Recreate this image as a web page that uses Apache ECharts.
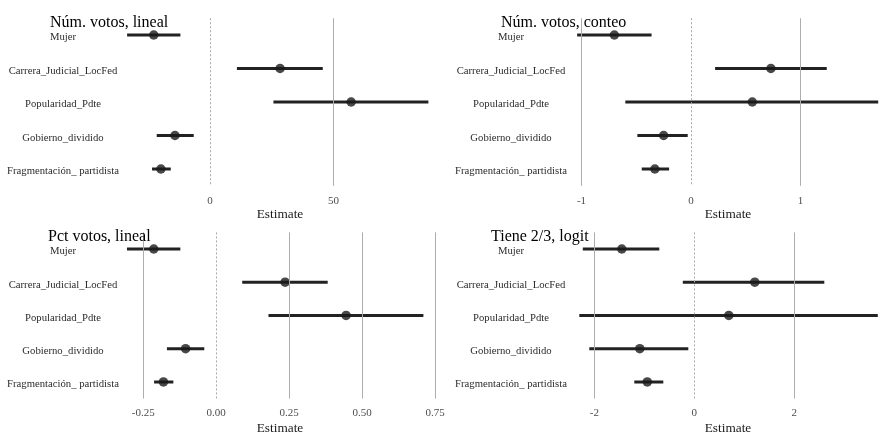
<!DOCTYPE html>
<html>
<head>
<meta charset="utf-8">
<script src="https://cdn.jsdelivr.net/npm/echarts@6/dist/echarts.min.js"></script>
<style>html,body{margin:0;padding:0;background:#fff}#c{width:892px;height:436px}</style>
</head>
<body>
<div id="c"></div>
<script>
const categories = ['Mujer', 'Carrera_Judicial_LocFed', 'Popularidad_Pdte', 'Gobierno_dividido', 'Fragmentación_ partidista'];
const panelTitles = ['Núm. votos, lineal', 'Núm. votos, conteo', 'Pct votos, lineal', 'Tiene 2/3, logit'];

// Panel 1: Núm. votos, lineal
const est1 = [-22.8, 28.4, 57.2, -14.2, -19.9];
const lo1  = [-33.6, 10.9, 25.7, -21.6, -23.5];
const hi1  = [-12.0, 45.7, 88.5, -6.6, -15.9];
const ticks1 = [0, 50];

// Panel 2: Núm. votos, conteo
const est2 = [-0.70, 0.73, 0.56, -0.25, -0.33];
const lo2  = [-1.04, 0.22, -0.60, -0.49, -0.45];
const hi2  = [-0.36, 1.24, 1.71, -0.03, -0.20];
const ticks2 = [-1, 0, 1];

// Panel 3: Pct votos, lineal
const est3 = [-0.214, 0.236, 0.445, -0.105, -0.181];
const lo3  = [-0.306, 0.089, 0.179, -0.169, -0.213];
const hi3  = [-0.123, 0.382, 0.710, -0.041, -0.147];
const ticks3 = [-0.25, 0, 0.25, 0.5, 0.75];

// Panel 4: Tiene 2/3, logit
const est4 = [-1.45, 1.21, 0.69, -1.09, -0.94];
const lo4  = [-2.23, -0.23, -2.30, -2.10, -1.20];
const hi4  = [-0.70, 2.60, 3.67, -0.12, -0.62];
const ticks4 = [-2, 0, 2];

const FONT = "'Liberation Serif', 'Times New Roman', serif";

const panels = [
  {est: est1, lo: lo1, hi: hi1, ticks: ticks1, dec: 0, grid: {left: 122, width: 316, top: 18.25, height: 167.5}, min: -35.67, max: 92.40, labelMargin: 59, tickMargin: 9.5, nameGap: 22.5, title: {left: 50, top: 14.5}},
  {est: est2, lo: lo2, hi: hi2, ticks: ticks2, dec: 0, grid: {left: 572, width: 312, top: 18.25, height: 167.5}, min: -1.087, max: 1.763, labelMargin: 61, tickMargin: 9.5, nameGap: 22.5, title: {left: 501, top: 14.5}},
  {est: est3, lo: lo3, hi: hi3, ticks: ticks3, dec: 2, grid: {left: 122, width: 316, top: 232.4, height: 166.25}, min: -0.323, max: 0.760, labelMargin: 59, tickMargin: 9.5, nameGap: 23.5, title: {left: 48, top: 228.5}},
  {est: est4, lo: lo4, hi: hi4, ticks: ticks4, dec: 0, grid: {left: 572, width: 312, top: 232.4, height: 166.25}, min: -2.446, max: 3.794, labelMargin: 61, tickMargin: 9.5, nameGap: 23.5, title: {left: 491, top: 228.5}}
];

const option = {
  animation: false,
  backgroundColor: '#ffffff',
  title: panels.map((p, i) => ({
    text: panelTitles[i], left: p.title.left, top: p.title.top, padding: 0, z: 10,
    textStyle: {fontFamily: FONT, fontSize: 16, fontWeight: 'normal', color: '#000'}
  })),
  grid: panels.map(p => Object.assign({containLabel: false}, p.grid)),
  xAxis: panels.map((p, i) => ({
    type: 'value', gridIndex: i, min: p.min, max: p.max,
    axisLine: {show: false}, axisTick: {show: false}, splitLine: {show: false},
    axisLabel: {
      customValues: p.ticks, margin: p.tickMargin,
      fontFamily: FONT, fontSize: 11, color: '#4d4d4d',
      formatter: v => Number(v).toFixed(p.dec)
    },
    name: 'Estimate', nameLocation: 'middle', nameGap: p.nameGap,
    nameTextStyle: {fontFamily: FONT, fontSize: 13.3, color: '#1a1a1a'}
  })),
  yAxis: panels.map((p, i) => ({
    type: 'category', gridIndex: i, data: categories, inverse: true,
    axisLine: {show: false}, axisTick: {show: false}, splitLine: {show: false},
    axisLabel: {align: 'center', verticalAlign: 'top', lineHeight: 5, margin: p.labelMargin, fontFamily: FONT, fontSize: 10.7, color: '#2b2b2b'}
  })),
  series: []
};

panels.forEach((p, i) => {
  option.series.push({
    type: 'scatter', xAxisIndex: i, yAxisIndex: i, data: [], z: 1, silent: true,
    markLine: {
      silent: true, symbol: ['none', 'none'], label: {show: false},
      data: p.ticks.map(v => ({
        xAxis: v,
        lineStyle: v === 0 ? {color: '#a8a8a8', width: 1, type: [2, 2]} : {color: '#adadad', width: 1, type: 'solid'}
      }))
    }
  });
  option.series.push({
    type: 'custom', xAxisIndex: i, yAxisIndex: i, z: 2, clip: true,
    encode: {x: [0, 1], y: 2},
    data: categories.map((c, k) => [p.lo[k], p.hi[k], k]),
    renderItem: (params, api) => {
      const a = api.coord([api.value(0), api.value(2)]);
      const b = api.coord([api.value(1), api.value(2)]);
      return {type: 'line', shape: {x1: a[0], y1: a[1], x2: b[0], y2: b[1]}, style: {stroke: '#222', lineWidth: 3}};
    }
  });
  option.series.push({
    type: 'scatter', xAxisIndex: i, yAxisIndex: i, z: 3,
    symbolSize: 9.5, itemStyle: {color: '#1a1a1a'},
    data: p.est.map((v, k) => [v, k])
  });
});

const chart = echarts.init(document.getElementById('c'), null, {renderer: 'canvas'});
chart.setOption(option);
</script>
</body>
</html>
